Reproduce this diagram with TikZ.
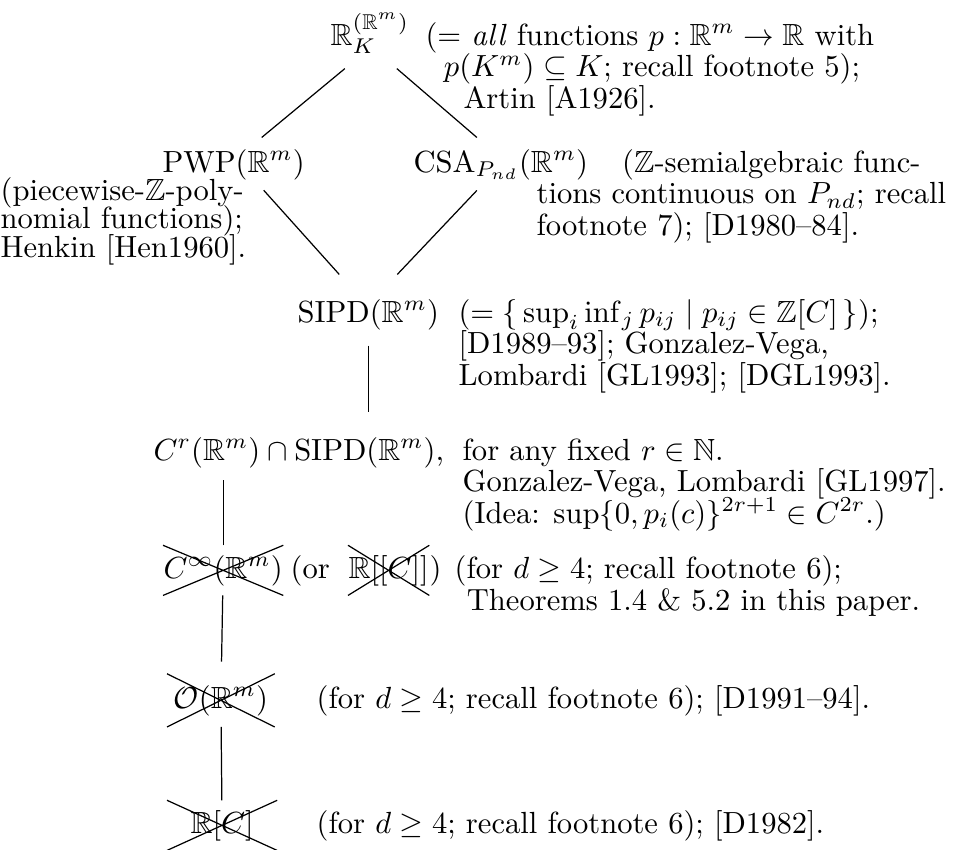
\documentclass[tikz,border=0pt]{standalone}
\usepackage{amsmath}
\usepackage{amssymb}
\usepackage{tikz}
\usetikzlibrary{shapes.misc}
\newcommand\notefont{\fontsize{10}{10.3}\selectfont\lineskiplimit=-5pt\relax}
\newcommand\tightfont{\fontsize{10}{9.3}\selectfont\lineskiplimit=-5pt\relax}
\tikzset{
  ring_node/.style = {inner sep=0pt, anchor=base west},% a ring of functions
  note_node/.style = {inner sep=0pt, anchor=base west, align=left,
    font=\notefont},% remark beside it, placed at its last line
  gone_node/.style = {ring_node, cross out, draw=black, thin,
    inner xsep=0pt, inner ysep=3pt}% ring that does not do it
}

\begin{document}
\begin{tikzpicture}[x=0.327pt, y=-0.327pt]
  \useasboundingbox (0,0) rectangle (957,850);
  % the diamond at the top
  \node [ring_node] (all) at (330,45) {$\mathbb{R}_K^{(\mathbb{R}^m)}$};
  \node [note_node] (all_note) at (425,108) {$(=$ \emph{all} functions $p:\mathbb{R}^m\to\mathbb{R}$ with\\
    \hspace*{6pt}$p(K^m)\subseteq K$; recall footnote 5);\\
    \hspace*{12.4pt}Artin [A1926].};
  \node [ring_node] (pwp) at (162,172) {PWP$(\mathbb{R}^m)$};
  \node [note_node, font=\tightfont] (pwp_note) at (0,257)
    {(piecewise-$\mathbb{Z}$-poly-\\nomial functions);\\Henkin [Hen1960].};
  \node [ring_node] (csa) at (413,172) {CSA$_{P_{nd}}(\mathbb{R}^m)$};
  \node [note_node] (csa_note) at (536,235) {\hspace*{28pt}($\mathbb{Z}$-semialgebraic func-\\
    tions continuous on $P_{nd}$; recall\\footnote 7); [D1980--84].};
  \node [ring_node] (sipd) at (297,322) {SIPD$(\mathbb{R}^m)$};
  \node [note_node] (sipd_note) at (458,385)
    {$(=\{\,\sup_i\inf_j p_{ij}\mid p_{ij}\in\mathbb{Z}[C]\,\})$;\\\relax
    [D1989--93]; Gonzalez-Vega,\\Lombardi [GL1993]; [DGL1993].};
  % the chain below
  \node [ring_node] (cr) at (153,460) {$C^r(\mathbb{R}^m)\cap\mathrm{SIPD}(\mathbb{R}^m)$,};
  \node [note_node] (cr_note) at (462,523) {for any fixed $r\in\mathbb{N}$.\\
    Gonzalez-Vega, Lombardi [GL1997].\\
    (Idea: $\sup\{0,p_i(c)\}^{2r+1}\in C^{2r}$.)};
  \node [gone_node] (cinf) at (163,578) {$C^\infty(\mathbb{R}^m)$};
  \node [ring_node] (or) at (290,578) {(or};
  \node [gone_node] (formal) at (348,578) {$\mathbb{R}[[C]]$};
  \node [ring_node] (close) at (429,578) {)};
  \node [note_node] (cinf_note) at (454,610) {(for $d\geq4$; recall footnote 6);\\
    \hspace*{4pt}Theorems 1.4 \& 5.2 in this paper.};
  \node [gone_node, inner xsep=2pt, inner ysep=3.5pt] (omega) at (167,708) {$\mathcal{O}(\mathbb{R}^m)$};
  \node [note_node] (omega_note) at (316,708) {(for $d\geq4$; recall footnote 6); [D1991--94].};
  \node [gone_node, inner xsep=7.5pt] (poly) at (167,833) {$\mathbb{R}[C]$};
  \node [note_node] (poly_note) at (316,833) {(for $d\geq4$; recall footnote 6); [D1982].};

  \draw ([shift={(-25,14)}]all.south) -- ([shift={(28,-11)}]pwp.north);
  \draw ([shift={(27,14)}]all.south) -- ([shift={(-24,-11)}]csa.north);
  \draw ([shift={(30,10)}]pwp.south) -- ([shift={(-29,-24)}]sipd.north);
  \draw ([shift={(-24,10)}]csa.south) -- ([shift={(29,-24)}]sipd.north);
  \draw [shorten <=5pt, shorten >=8pt] (sipd.south) -- (sipd.south |- cr.north);
  \draw [shorten >=4pt] (cinf.north) -- (cinf.north |- cr.south);
  \draw [shorten >=4pt] (cinf) -- (omega);
  \draw (omega) -- (poly);
\end{tikzpicture}
\end{document}
